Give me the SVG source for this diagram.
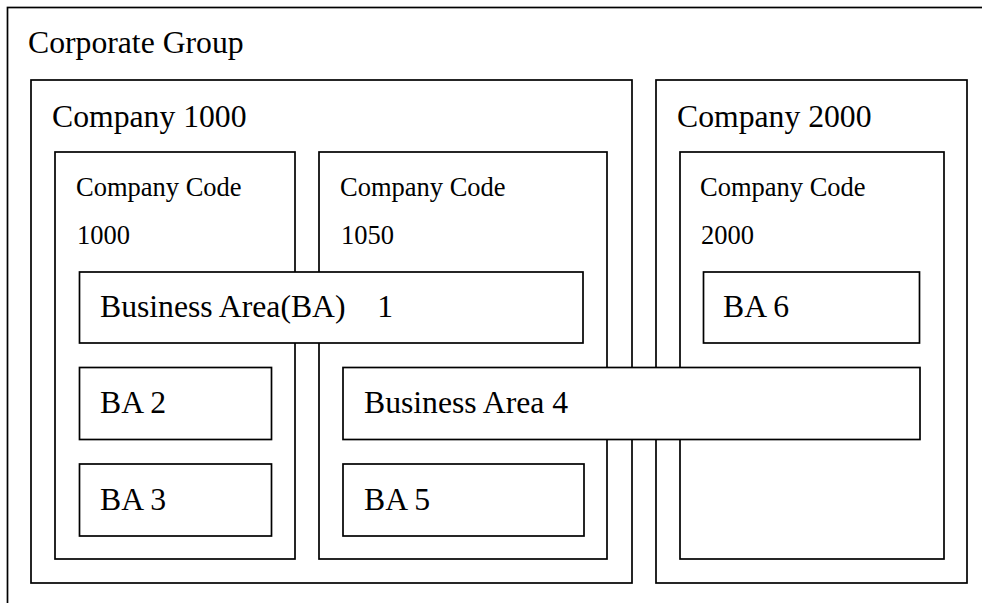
<svg xmlns="http://www.w3.org/2000/svg" width="982" height="603" viewBox="0 0 982 603">
<style>
rect{fill:#fff;stroke:#000;stroke-width:1.7}
text{font-family:"Liberation Serif","Noto Sans CJK SC",serif;fill:#000}
.big{font-size:31.7px}
.sm{font-size:26.5px}
</style>
<rect x="0" y="0" width="982" height="603" style="stroke:none"/>
<g id="corporate-group">
<rect x="7.5" y="7.5" width="1000" height="700"/>
<text class="big" x="28" y="53">Corporate Group</text>
</g>
<g id="company-1000">
<rect x="31" y="80" width="601" height="503"/>
<text class="big" x="52" y="127">Company 1000</text>
</g>
<g id="company-2000">
<rect x="656" y="80" width="311" height="503"/>
<text class="big" x="677" y="127">Company 2000</text>
</g>
<g id="cc-1000">
<rect x="55" y="152" width="240" height="407"/>
<text class="sm" x="76" y="196">Company Code</text>
<text class="sm" x="77" y="244">1000</text>
</g>
<g id="cc-1050">
<rect x="319" y="152" width="288" height="407"/>
<text class="sm" x="340" y="196">Company Code</text>
<text class="sm" x="341" y="244">1050</text>
</g>
<g id="cc-2000">
<rect x="680" y="152" width="264" height="407"/>
<text class="sm" x="700" y="196">Company Code</text>
<text class="sm" x="701" y="244">2000</text>
</g>
<g id="ba-1">
<rect x="79.5" y="272" width="503.5" height="71"/>
<text class="big" x="100" y="317">Business Area(BA)　1</text>
</g>
<g id="ba-2">
<rect x="79.5" y="367.5" width="192" height="72"/>
<text class="big" x="100" y="413">BA 2</text>
</g>
<g id="ba-3">
<rect x="79.5" y="464" width="192" height="72"/>
<text class="big" x="100" y="510">BA 3</text>
</g>
<g id="ba-4">
<rect x="343" y="367.5" width="577" height="72"/>
<text class="big" x="364" y="413">Business Area 4</text>
</g>
<g id="ba-5">
<rect x="343" y="464" width="241" height="72"/>
<text class="big" x="364" y="510">BA 5</text>
</g>
<g id="ba-6">
<rect x="703.5" y="272" width="216" height="71"/>
<text class="big" x="723" y="317">BA 6</text>
</g>
<g id="connectors"></g>
</svg>
